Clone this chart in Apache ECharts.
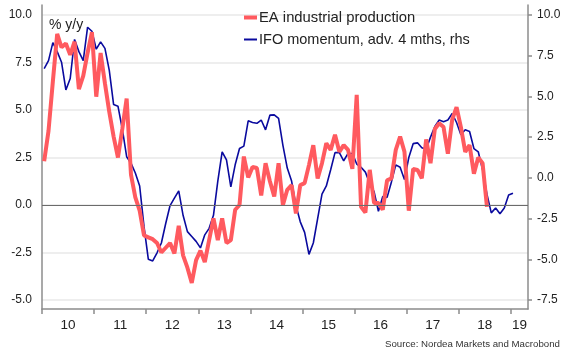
<!DOCTYPE html>
<html><head><meta charset="utf-8">
<script src="https://cdn.jsdelivr.net/npm/echarts@6/dist/echarts.min.js"></script>
<style>html,body{margin:0;padding:0;background:#fff}#c{width:570px;height:360px}</style>
</head><body><div id="c"></div>
<script>
// ---- data ----
const startYear = 2010;           // first observation: Jan 2010, monthly
const years = [2010, 2011, 2012, 2013, 2014, 2015, 2016, 2017, 2018, 2019];
const leftTicks = [-5, -2.5, 0, 2.5, 5, 7.5, 10];
const rightTicks = [-7.5, -5, -2.5, 0, 2.5, 5, 7.5, 10];
const seriesNames = ['EA industrial production', 'IFO momentum, adv. 4 mths, rhs'];

// EA industrial production, % y/y (lhs), Jan 2010 - Jul 2018
const eaIndustrialProduction = [
  2.3, 3.9, 6.5, 9.0, 8.3, 8.5, 7.9, 8.6, 6.1, 6.8, 8.0, 9.1,
  5.7, 8.0, 6.4, 4.9, 3.6, 2.5, 4.0, 5.6, 1.6, 0.4, -0.3, -1.6,
  -1.7, -1.8, -2.0, -2.5, -2.25, -2.0, -2.55, -1.1, -2.65, -3.3, -4.1, -2.9,
  -2.4, -3.0, -1.85, -0.7, -1.85, -0.7, -2.0, -1.85, -0.25, 0.0, 2.55, 1.45,
  2.0, 1.95, 0.5, 2.2, 1.25, 0.45, 2.2, 0.0, 0.8, 1.05, -0.45, 1.05,
  1.15, 2.1, 3.15, 1.4, 2.2, 3.25, 2.9, 3.7, 2.8, 3.15, 2.9, 1.9,
  5.8, -0.1, -0.4, 1.85, 0.1, 0.1, -0.25, 1.3, 1.4, 2.9, 3.6, 2.8,
  -0.3, 1.9, 1.85, 1.4, 3.45, 2.2, 4.0, 4.3, 4.1, 2.7, 4.5, 5.15,
  4.1, 2.8, 3.15, 1.65, 2.5, 2.2, -0.1
];

// IFO momentum, advanced 4 months (rhs), Jan 2010 - Jan 2019
const ifoMomentum = [
  6.7, 7.2, 8.3, 7.75, 7.1, 5.4, 6.1, 8.5, 7.75, 7.2, 9.25, 9.0,
  7.9, 8.35, 7.95, 6.6, 4.5, 4.4, 3.0, 1.3, 0.9, 0.3, -0.5, -3.0,
  -5.0, -5.1, -4.6, -4.0, -2.8, -1.7, -1.25, -0.8, -2.3, -3.3, -3.6, -3.9,
  -4.3, -3.5, -3.1, -2.3, -0.2, 1.6, 1.1, -0.55, 0.8, 1.8, 1.95, 3.5,
  3.4, 3.35, 3.55, 2.95, 3.85, 3.87, 3.65, 2.0, 0.6, -0.2, -1.7, -2.7,
  -3.35, -4.7, -4.0, -2.5, -1.0, -0.5, 0.5, 1.55, 1.55, 1.05, 1.5, 1.5,
  0.85, 0.65, 0.35, -0.35, -0.85, -2.05, -1.15, -1.2, -0.25, 0.8, 0.65, -0.1,
  1.25, 2.1, 2.15, 1.85, 1.75, 2.5, 3.15, 3.55, 3.45, 3.55, 3.95, 3.4,
  2.65, 2.95, 2.85, 1.8, 1.6, 0.5, -1.0, -2.15, -1.85, -2.2, -1.85, -1.05,
  -0.94
];

// ---- build ----
const xMin = 2010, xMax = 2019.33;
const toPairs = arr => arr.map((v, i) => [startYear + (i + 0.5) / 12, v]);
const labelPos = years.map(y => Math.min(y + 0.5, (y + xMax) / 2));
const FONT = 'Liberation Sans';
const fmt1 = v => (v < 0 ? '-' : '') + Math.abs(v).toFixed(1);

const chart = echarts.init(document.getElementById('c'), null, {renderer: 'canvas'});
chart.setOption({
  animation: false,
  backgroundColor: '#fff',
  textStyle: {fontFamily: FONT},
  grid: {left: 42, right: 42, top: 5, bottom: 51, containLabel: false},
  title: {
    text: '% y/y', left: 44, top: 13,
    textStyle: {fontFamily: FONT, fontSize: 14, fontWeight: 'normal', color: '#222'}
  },
  graphic: [{
    type: 'text', right: 10, top: 339,
    style: {text: 'Source: Nordea Markets and Macrobond', font: '9.7px "Liberation Sans"', fill: '#333'}
  }],
  legend: [{
    data: [{name: seriesNames[0], icon: 'rect'}],
    left: 239, top: 5, itemWidth: 13, itemHeight: 4, itemGap: 0,
    textStyle: {fontFamily: FONT, fontSize: 14.8, color: '#222', padding: [0, 0, 0, -3]}
  }, {
    data: [{name: seriesNames[1], icon: 'rect'}],
    left: 239, top: 27, itemWidth: 13, itemHeight: 2, itemGap: 0,
    textStyle: {fontFamily: FONT, fontSize: 14.5, color: '#222', padding: [0, 0, 0, -3]}
  }],
  xAxis: {
    type: 'value', min: xMin, max: xMax,
    axisLine: {show: true, onZero: false, lineStyle: {color: '#8c8c8c', width: 1.5}},
    axisTick: {show: true, customValues: years.slice(0, 10), length: 5, lineStyle: {color: '#8c8c8c', width: 1.5}},
    axisLabel: {customValues: labelPos, formatter: v => String(Math.floor(v) % 100),
      fontFamily: FONT, fontSize: 13.5, color: '#222', margin: 9},
    splitLine: {show: false}
  },
  yAxis: [{
    type: 'value', min: -5.474, max: 10.526, position: 'left',
    axisLine: {show: true, onZero: false, lineStyle: {color: '#8c8c8c', width: 1.5}},
    axisTick: {show: false, customValues: leftTicks},
    axisLabel: {customValues: leftTicks, formatter: fmt1, fontFamily: FONT, fontSize: 12, color: '#222', margin: 10},
    splitLine: {show: true, lineStyle: {color: '#e8e8e8', width: 1.5}}
  }, {
    type: 'value', min: -8.053, max: 10.614, position: 'right',
    axisLine: {show: true, onZero: false, lineStyle: {color: '#8c8c8c', width: 1.5}},
    axisTick: {show: true, customValues: rightTicks, length: 4, lineStyle: {color: '#8c8c8c', width: 1.5}},
    axisLabel: {customValues: rightTicks, formatter: fmt1, fontFamily: FONT, fontSize: 12, color: '#222', margin: 9},
    splitLine: {show: false}
  }],
  series: [{
    name: seriesNames[0], type: 'line', yAxisIndex: 0, z: 3,
    data: toPairs(eaIndustrialProduction), showSymbol: false, symbol: 'none',
    lineStyle: {color: '#ff5a5f', width: 4}, itemStyle: {color: '#ff5a5f'},
    markLine: {silent: true, symbol: 'none', label: {show: false},
      lineStyle: {color: '#6b6b6b', width: 1.2, type: 'solid'}, data: [{yAxis: 0}]}
  }, {
    name: seriesNames[1], type: 'line', yAxisIndex: 1, z: 2,
    data: toPairs(ifoMomentum), showSymbol: false, symbol: 'none',
    lineStyle: {color: '#0a0a9e', width: 1.6}, itemStyle: {color: '#0a0a9e'}
  }]
});
</script></body></html>
